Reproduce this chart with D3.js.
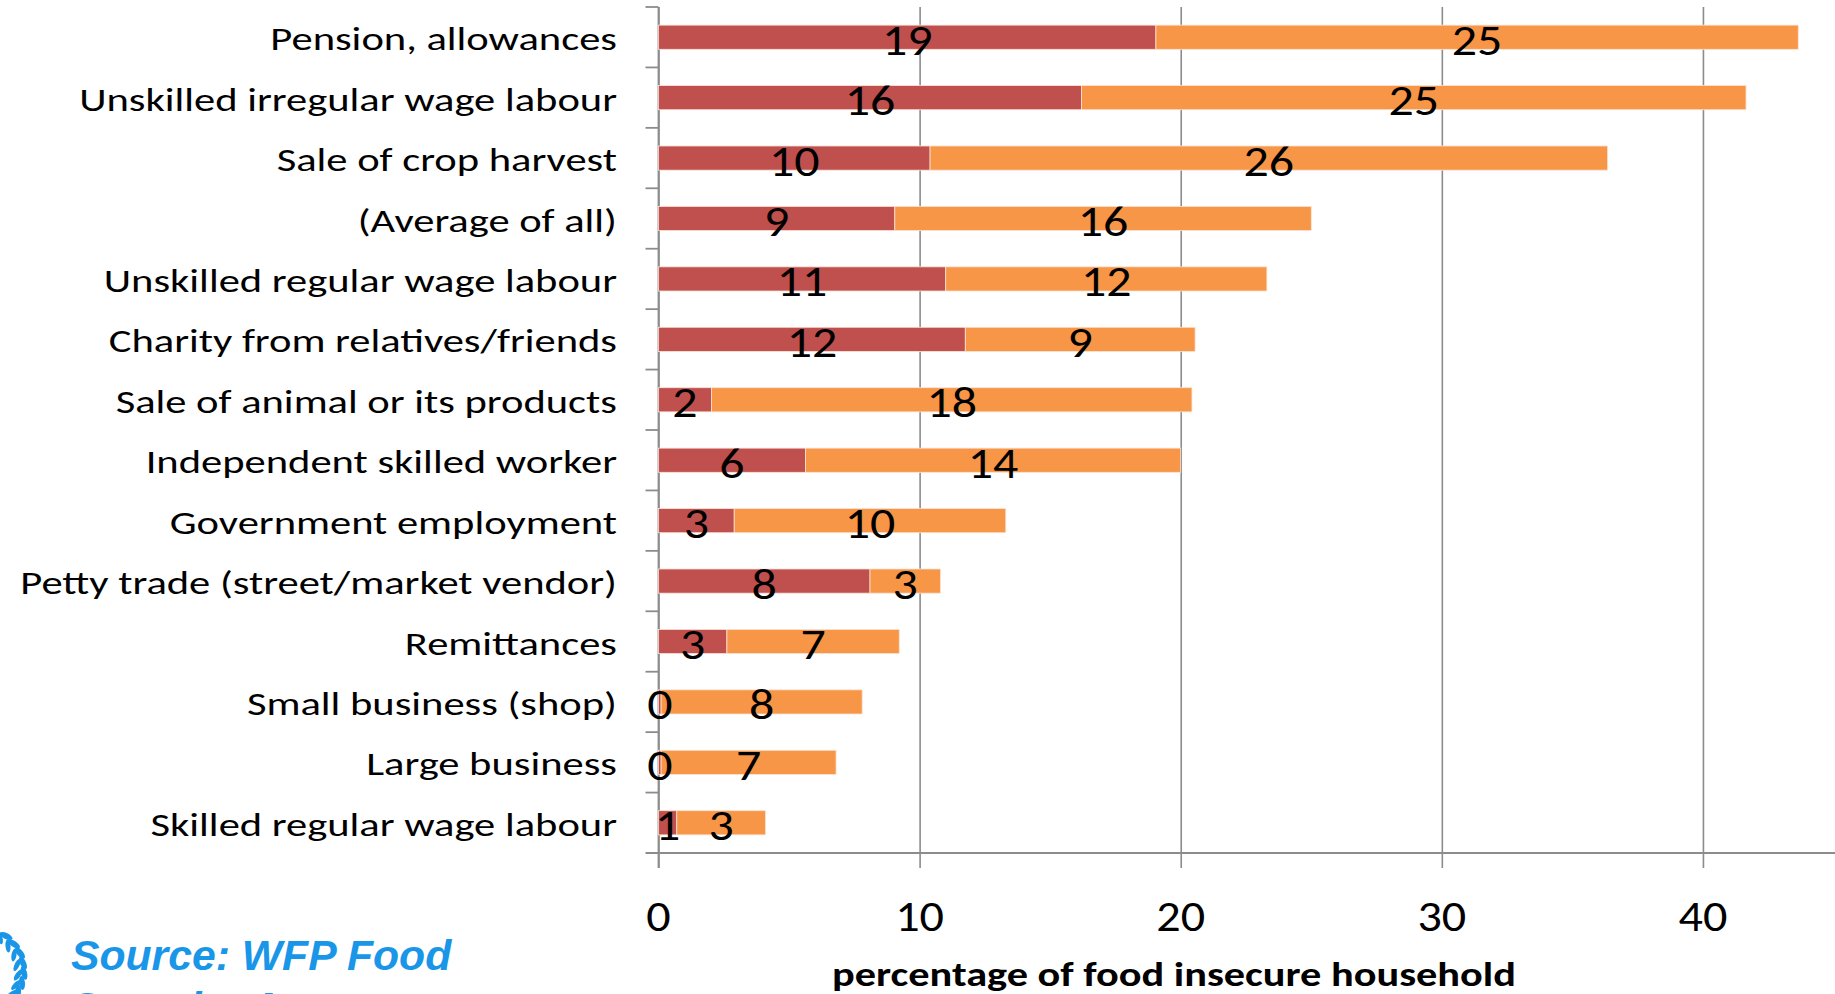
<!DOCTYPE html>
<html>
<head>
<meta charset="utf-8">
<script src="https://cdn.jsdelivr.net/npm/d3@7"></script>
<style>
  html, body { margin: 0; padding: 0; background: #fff; overflow: hidden; }
  svg { display: block; }
</style>
</head>
<body>
<svg id="chart" width="1835" height="994"></svg>
<script>
// ---- data (top to bottom) ----
const categories = [
  "Pension, allowances",
  "Unskilled irregular wage labour",
  "Sale of crop harvest",
  "(Average of all)",
  "Unskilled regular wage labour",
  "Charity from relatives/friends",
  "Sale of animal or its products",
  "Independent skilled worker",
  "Government employment",
  "Petty trade (street/market vendor)",
  "Remittances",
  "Small business (shop)",
  "Large business",
  "Skilled regular wage labour"
];
// severely food insecure (red) and moderately food insecure (orange), % of households
const severeValues   = [19.05, 16.2, 10.4, 9.05, 11.0, 11.75, 2.03, 5.63, 2.9, 8.1, 2.62, 0.1, 0.1, 0.7];
const moderateValues = [24.6, 25.45, 25.95, 15.95, 12.3, 8.8, 18.4, 14.37, 10.4, 2.7, 6.6, 7.7, 6.7, 3.4];
const severeLabels   = ["19","16","10","9","11","12","2","6","3","8","3","0","0","1"];
const moderateLabels = ["25","25","26","16","12","9","18","14","10","3","7","8","7","3"];
const xTicks = [0, 10, 20, 30, 40];
const xDomain = [0, 45];
const axisTitle = "percentage of food insecure household";
const sourceLines = ["Source: WFP Food", "Security Assessment"];

// ---- layout ----
const svg = d3.select("#chart");
const pLeft = 658.5, pRight = 1833.5, pTop = 7, pBottom = 853;
const FONT = "Carlito, Calibri, Lato, 'Open Sans', sans-serif";
const GRID = "#8c8c8c";

const x = d3.scaleLinear().domain(xDomain).range([pLeft, pRight]);
const y = d3.scaleBand().domain(categories).range([pTop, pBottom]).paddingInner(0.6).paddingOuter(0.3);

// helper: place text at (tx,ty) with horizontal stretch sx
const place = (sx, fx, fy) => function (d, i) {
  d3.select(this).attr("x", 0).attr("y", 0)
    .attr("transform", `translate(${fx(d, i)},${fy(d, i)}) scale(${sx},1)`);
};

// gridlines + x ticks
const xAxis = d3.axisBottom(x).tickValues(xTicks).tickFormat("");
const gx = svg.append("g").attr("transform", `translate(0,${pBottom})`).call(xAxis);
gx.select(".domain").remove();
gx.selectAll(".tick line").attr("stroke", GRID).attr("stroke-width", 1.6)
  .attr("y1", -(pBottom - pTop)).attr("y2", 15);

// x axis line (extends left as a tick)
svg.append("line").attr("x1", pLeft - 13).attr("x2", 1835).attr("y1", pBottom).attr("y2", pBottom)
  .attr("stroke", GRID).attr("stroke-width", 1.8);

// y axis with ticks at band boundaries
svg.append("line").attr("x1", pLeft).attr("x2", pLeft).attr("y1", pTop).attr("y2", pBottom + 15)
  .attr("stroke", GRID).attr("stroke-width", 1.8);
const step = y.step();
const boundaries = d3.range(categories.length).map(i => pTop + i * step);
svg.append("g").selectAll("line").data(boundaries).join("line")
  .attr("x1", pLeft - 13).attr("x2", pLeft).attr("y1", d => d).attr("y2", d => d)
  .attr("stroke", GRID).attr("stroke-width", 1.8);

// x tick labels
svg.append("g").selectAll("text").data(xTicks).join("text")
  .each(place(1.12, d => x(d), () => 931))
  .attr("text-anchor", "middle").attr("font-family", FONT).attr("font-size", 43)
  .attr("fill", "#000").text(d => d);

// category labels
svg.append("g").selectAll("text").data(categories).join("text")
  .each(place(1.27, () => 617, d => y(d) + y.bandwidth() / 2 + 13))
  .attr("text-anchor", "end").attr("font-family", FONT).attr("font-size", 33.5)
  .attr("fill", "#000").text(d => d);

// bars
const rows = categories.map((c, i) => ({ c, s: severeValues[i], m: moderateValues[i], sl: severeLabels[i], ml: moderateLabels[i] }));
const bars = svg.append("g");
bars.selectAll("rect.sev").data(rows).join("rect").attr("class", "sev")
  .attr("x", x(0)).attr("y", d => y(d.c)).attr("height", y.bandwidth())
  .attr("width", d => x(d.s) - x(0)).attr("fill", "#C0504D");
bars.selectAll("rect.mod").data(rows).join("rect").attr("class", "mod")
  .attr("x", d => x(d.s)).attr("y", d => y(d.c)).attr("height", y.bandwidth())
  .attr("width", d => x(d.s + d.m) - x(d.s)).attr("fill", "#F79646");
bars.selectAll("rect").attr("stroke", "#fbe3d6").attr("stroke-width", 0.8);

// data labels
const labels = svg.append("g").attr("font-family", FONT).attr("font-size", 43).attr("text-anchor", "middle").attr("fill", "#000");
labels.selectAll("text.sl").data(rows).join("text").attr("class", "sl")
  .each(place(1.16, d => x(d.s / 2), d => y(d.c) + y.bandwidth() / 2 + 17.5)).text(d => d.sl);
labels.selectAll("text.ml").data(rows).join("text").attr("class", "ml")
  .each(place(1.16, d => x(d.s + d.m / 2), d => y(d.c) + y.bandwidth() / 2 + 17.5)).text(d => d.ml);

// axis title
svg.append("text").datum(axisTitle)
  .each(place(1.21, () => 1174, () => 986))
  .attr("text-anchor", "middle")
  .attr("font-family", FONT).attr("font-weight", "bold").attr("font-size", 35)
  .attr("fill", "#000").text(d => d);

// source note
const BLUE = "#1a96e8";
svg.append("g").selectAll("text").data(sourceLines).join("text")
  .attr("x", 71).attr("y", (d, i) => 970 + i * 52)
  .attr("font-family", "'Liberation Sans', Arial, sans-serif").attr("font-weight", "bold")
  .attr("font-style", "italic").attr("font-size", 42.7).attr("fill", BLUE).text(d => d);

// WFP wreath fragment (leaves along an arc)
const wreath = svg.append("g").attr("fill", BLUE);
const leafPts = [[6, 936, -40], [14, 944, -30], [20, 953, -15], [23, 963, 0], [24, 973, 10], [22, 983, 20], [18, 992, 30]];
leafPts.forEach(([cx, cy, a]) => {
  wreath.append("ellipse").attr("cx", cx).attr("cy", cy).attr("rx", 3).attr("ry", 7)
    .attr("transform", `rotate(${a - 25},${cx},${cy})`);
  wreath.append("ellipse").attr("cx", cx - 6).attr("cy", cy + 2).attr("rx", 2.5).attr("ry", 6.5)
    .attr("transform", `rotate(${a + 25},${cx - 6},${cy + 2})`);
});
</script>
</body>
</html>
